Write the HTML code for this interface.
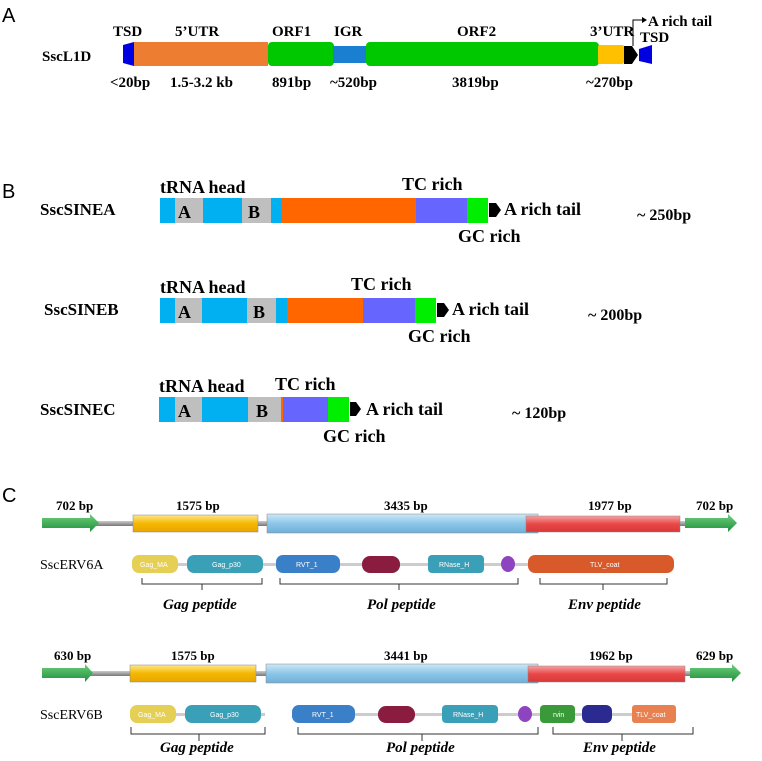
<!DOCTYPE html>
<html><head><meta charset="utf-8"><style>
html,body{margin:0;padding:0;background:#fff;}
svg{display:block;font-family:"Liberation Serif",serif;}
.b{font-weight:bold;}
.s{font-family:"Liberation Sans",sans-serif;}
</style></head><body>
<svg width="762" height="761" viewBox="0 0 762 761">
<defs>
<linearGradient id="gy" x1="0" y1="0" x2="0" y2="1"><stop offset="0" stop-color="#fde68a"/><stop offset=".5" stop-color="#f5b800"/><stop offset="1" stop-color="#e8a400"/></linearGradient>
<linearGradient id="gb" x1="0" y1="0" x2="0" y2="1"><stop offset="0" stop-color="#cde8f6"/><stop offset=".5" stop-color="#8cc6e8"/><stop offset="1" stop-color="#6fb0d8"/></linearGradient>
<linearGradient id="gr" x1="0" y1="0" x2="0" y2="1"><stop offset="0" stop-color="#f7a0a0"/><stop offset=".5" stop-color="#e84848"/><stop offset="1" stop-color="#d83838"/></linearGradient>
<linearGradient id="gg" x1="0" y1="0" x2="0" y2="1"><stop offset="0" stop-color="#6fcf7f"/><stop offset="1" stop-color="#1f8f3a"/></linearGradient>
<linearGradient id="gl" x1="0" y1="0" x2="0" y2="1"><stop offset="0" stop-color="#ccc"/><stop offset="1" stop-color="#777"/></linearGradient>
</defs>

<!-- Panel A -->
<g>
<text x="2" y="22" font-size="20" class="s">A</text>
<text x="42" y="61" font-size="15" class="b">SscL1D</text>
<polygon points="123,45 134,42 134,66 123,63" fill="#0000e0"/>
<rect x="134" y="42" width="134" height="24" fill="#ed7d31"/>
<rect x="268" y="42" width="66" height="24" rx="4" fill="#00c800"/>
<rect x="333" y="46" width="34" height="17" fill="#1a7fd0"/>
<rect x="366" y="42" width="233" height="24" rx="4" fill="#00c800"/>
<rect x="598" y="45" width="26" height="19" rx="2" fill="#ffc000"/>
<polygon points="624,46 632,46 638,55 632,64 624,64" fill="#000"/>
<polygon points="639,49 652,45 652,64 639,61" fill="#0000e0"/>
<polyline points="633,46 633,20 642,20" fill="none" stroke="#000" stroke-width="1"/>
<polygon points="642,17 647,20 642,23" fill="#000"/>
<g font-size="15" class="b">
<text x="113" y="36">TSD</text><text x="175" y="36">5’UTR</text><text x="272" y="36">ORF1</text><text x="334" y="36">IGR</text><text x="457" y="36">ORF2</text><text x="590" y="36">3’UTR</text><text x="640" y="42">TSD</text>
<text x="648" y="26">A rich tail</text>
<text x="110" y="87">&lt;20bp</text><text x="170" y="87">1.5-3.2 kb</text><text x="272" y="87">891bp</text><text x="330" y="87">~520bp</text><text x="452" y="87">3819bp</text><text x="586" y="87">~270bp</text>
</g>
</g>

<!-- Panel B -->
<g>
<text x="2" y="198" font-size="20" class="s">B</text>
<g>
<text x="40" y="215" font-size="17" class="b">SscSINEA</text>
<rect x="160" y="198" width="15" height="25" fill="#00b0f0"/><rect x="175" y="198" width="28" height="25" fill="#bfbfbf"/><rect x="203" y="198" width="39" height="25" fill="#00b0f0"/><rect x="242" y="198" width="29" height="25" fill="#bfbfbf"/><rect x="271" y="198" width="11" height="25" fill="#00b0f0"/><rect x="282" y="198" width="134" height="25" fill="#ff6600"/><rect x="416" y="198" width="51" height="25" fill="#6666ff"/><rect x="467" y="198" width="21" height="25" fill="#00ee00"/>
<polygon points="489,203 496,203 501,210 496,217 489,217" fill="#000"/>
<g font-size="18" class="b"><text x="178" y="218">A</text><text x="248" y="218">B</text><text x="160" y="193">tRNA head</text><text x="402" y="190">TC rich</text><text x="504" y="215">A rich tail</text><text x="458" y="242">GC rich</text><text x="637" y="220" font-size="16">~ 250bp</text></g>
</g>
<g>
<text x="44" y="315" font-size="17" class="b">SscSINEB</text>
<rect x="160" y="298" width="15" height="25" fill="#00b0f0"/><rect x="175" y="298" width="27" height="25" fill="#bfbfbf"/><rect x="202" y="298" width="45" height="25" fill="#00b0f0"/><rect x="247" y="298" width="29" height="25" fill="#bfbfbf"/><rect x="276" y="298" width="11" height="25" fill="#00b0f0"/><rect x="287" y="298" width="76" height="25" fill="#ff6600"/><rect x="363" y="298" width="52" height="25" fill="#6666ff"/><rect x="415" y="298" width="21" height="25" fill="#00ee00"/>
<polygon points="437,303 444,303 449,310 444,317 437,317" fill="#000"/>
<g font-size="18" class="b"><text x="178" y="318">A</text><text x="253" y="318">B</text><text x="160" y="293">tRNA head</text><text x="351" y="290">TC rich</text><text x="452" y="315">A rich tail</text><text x="408" y="342">GC rich</text><text x="588" y="320" font-size="16">~ 200bp</text></g>
</g>
<g>
<text x="40" y="415" font-size="17" class="b">SscSINEC</text>
<rect x="159" y="397" width="16" height="25" fill="#00b0f0"/><rect x="175" y="397" width="27" height="25" fill="#bfbfbf"/><rect x="202" y="397" width="46" height="25" fill="#00b0f0"/><rect x="248" y="397" width="33" height="25" fill="#bfbfbf"/><rect x="281" y="397" width="2" height="25" fill="#ff6600"/><rect x="283" y="397" width="45" height="25" fill="#6666ff"/><rect x="328" y="397" width="21" height="25" fill="#00ee00"/>
<polygon points="350,402 356,402 361,409 356,416 350,416" fill="#000"/>
<g font-size="18" class="b"><text x="178" y="417">A</text><text x="256" y="417">B</text><text x="159" y="392">tRNA head</text><text x="275" y="390">TC rich</text><text x="366" y="415">A rich tail</text><text x="323" y="442">GC rich</text><text x="512" y="418" font-size="16">~ 120bp</text></g>
</g>
</g>

<!-- Panel C -->
<g>
<text x="2" y="502" font-size="20" class="s">C</text>
<g>
<rect x="95" y="521" width="590" height="5" fill="url(#gl)"/>
<polygon points="42,518 90,518 90,514 99,523 90,532 90,528 42,528" fill="url(#gg)"/>
<polygon points="685,518 728,518 728,514 737,523 728,532 728,528 685,528" fill="url(#gg)"/>
<rect x="133" y="515" width="125" height="17" fill="url(#gy)" stroke="#888" stroke-width=".5"/>
<rect x="267" y="514" width="271" height="19" fill="url(#gb)" stroke="#888" stroke-width=".5"/>
<rect x="526" y="516" width="154" height="16" fill="url(#gr)" stroke="#888" stroke-width=".5"/>
<g font-size="13" class="b"><text x="56" y="510">702 bp</text><text x="176" y="510">1575 bp</text><text x="384" y="510">3435 bp</text><text x="588" y="510">1977 bp</text><text x="696" y="510">702 bp</text></g>
</g>
<g>
<text x="40" y="569" font-size="14">SscERV6A</text>
<rect x="133" y="563" width="540" height="3" fill="#ccc"/>
<rect x="132" y="555" width="46" height="18" rx="7" fill="#e6cf55"/><rect x="187" y="555" width="76" height="18" rx="7" fill="#3aa0b8"/>
<rect x="276" y="555" width="64" height="18" rx="7" fill="#3a80c8"/><rect x="362" y="556" width="38" height="17" rx="8" fill="#8a1c40"/>
<rect x="428" y="555" width="56" height="18" rx="4" fill="#3aa0b8"/><ellipse cx="508" cy="564" rx="7" ry="8" fill="#8e44c0"/>
<rect x="528" y="555" width="146" height="18" rx="7" fill="#d85a2a"/>
<g font-size="7" fill="#fff" class="s"><text x="140" y="567">Gag_MA</text><text x="212" y="567">Gag_p30</text><text x="296" y="567">RVT_1</text><text x="439" y="567">RNase_H</text><text x="590" y="567">TLV_coat</text></g>
<path d="M142,578 V584 H262 V578 M202,584 V590 M280,578 V584 H518 V578 M399,584 V590 M540,578 V584 H667 V578 M603,584 V590" fill="none" stroke="#333" stroke-width="1"/>
<g font-size="15" class="b" font-style="italic"><text x="163" y="609">Gag peptide</text><text x="367" y="609">Pol peptide</text><text x="568" y="609">Env peptide</text></g>
</g>
<g>
<rect x="90" y="671" width="600" height="5" fill="url(#gl)"/>
<polygon points="42,668 85,668 85,664 93,673 85,682 85,678 42,678" fill="url(#gg)"/>
<polygon points="690,668 732,668 732,664 741,673 732,682 732,678 690,678" fill="url(#gg)"/>
<rect x="130" y="665" width="126" height="17" fill="url(#gy)" stroke="#888" stroke-width=".5"/>
<rect x="266" y="664" width="272" height="19" fill="url(#gb)" stroke="#888" stroke-width=".5"/>
<rect x="528" y="666" width="157" height="16" fill="url(#gr)" stroke="#888" stroke-width=".5"/>
<g font-size="13" class="b"><text x="54" y="660">630 bp</text><text x="171" y="660">1575 bp</text><text x="384" y="660">3441 bp</text><text x="589" y="660">1962 bp</text><text x="696" y="660">629 bp</text></g>
</g>
<g>
<text x="40" y="719" font-size="14">SscERV6B</text>
<rect x="130" y="713" width="135" height="3" fill="#ccc"/><rect x="292" y="713" width="383" height="3" fill="#ccc"/>
<rect x="130" y="705" width="46" height="18" rx="7" fill="#e6cf55"/><rect x="185" y="705" width="76" height="18" rx="7" fill="#3aa0b8"/>
<rect x="292" y="705" width="63" height="18" rx="7" fill="#3a80c8"/><rect x="378" y="706" width="37" height="17" rx="8" fill="#8a1c40"/>
<rect x="442" y="705" width="56" height="18" rx="4" fill="#3aa0b8"/><ellipse cx="525" cy="714" rx="7" ry="8" fill="#8e44c0"/>
<rect x="540" y="705" width="35" height="18" rx="4" fill="#3a9a3a"/><rect x="582" y="705" width="30" height="18" rx="6" fill="#2a2a90"/>
<rect x="632" y="705" width="44" height="18" rx="3" fill="#e88050"/>
<g font-size="7" fill="#fff" class="s"><text x="138" y="717">Gag_MA</text><text x="210" y="717">Gag_p30</text><text x="312" y="717">RVT_1</text><text x="453" y="717">RNase_H</text><text x="553" y="717">rvin</text><text x="636" y="717">TLV_coat</text></g>
<path d="M131,727 V734 H265 V727 M199,734 V741 M298,727 V734 H538 V727 M422,734 V741 M553,727 V734 H693 V727 M622,734 V741" fill="none" stroke="#333" stroke-width="1"/>
<g font-size="15" class="b" font-style="italic"><text x="160" y="752">Gag peptide</text><text x="386" y="752">Pol peptide</text><text x="583" y="752">Env peptide</text></g>
</g>
</g>
</svg>
</body></html>
